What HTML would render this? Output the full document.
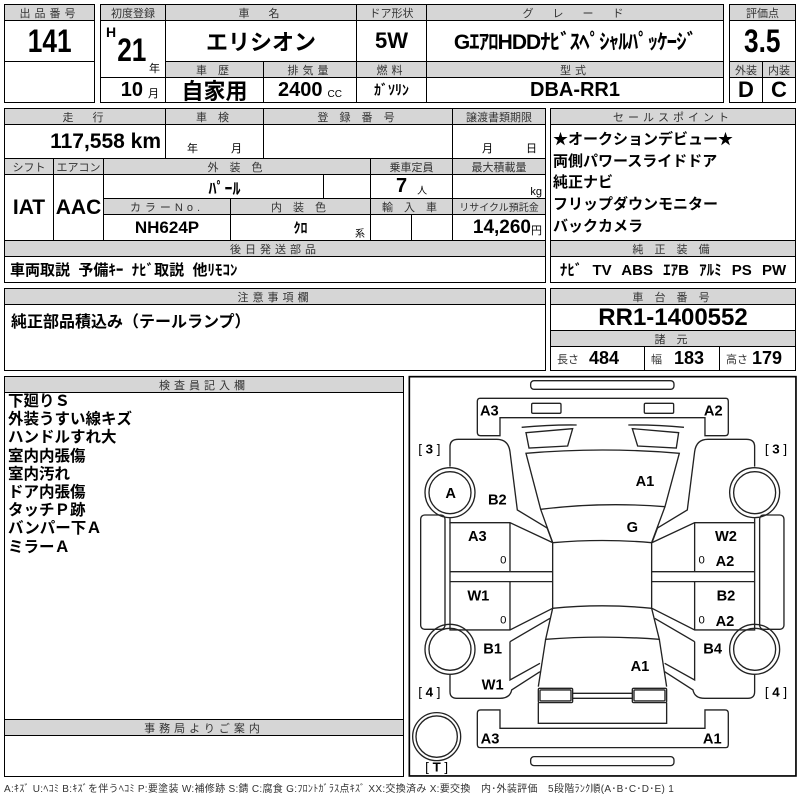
<!DOCTYPE html>
<html><head><meta charset="utf-8">
<style>
body{margin:0;width:800px;height:800px;background:#fff;position:relative;overflow:hidden;font-family:"Liberation Sans","Noto Sans CJK JP",sans-serif;color:#000}
.c{position:absolute;box-sizing:border-box;border:1px solid #000;display:flex;align-items:center;justify-content:center;white-space:nowrap;overflow:hidden}
.h{background:#d6d6d6;font-size:11px;color:#333;letter-spacing:4px;font-family:"Liberation Sans","Noto Sans CJK JP",sans-serif}
.b{font-weight:bold}
.o{position:absolute;box-sizing:border-box;border:1.5px solid #000}
.jp{font-family:"Liberation Sans","Noto Sans CJK JP",sans-serif}
.n{display:inline-block;transform:scaleX(0.82)}
</style></head><body>

<!-- box1 -->
<div class="c h" style="left:4px;top:4px;width:91px;height:17px">出品番号</div>
<div class="c b" style="left:4px;top:20px;width:91px;height:42px;font-size:32px"><span class="n">141</span></div>
<div class="c" style="left:4px;top:61px;width:91px;height:42px"></div>
<div class="o" style="left:4px;top:4px;width:91px;height:99px"></div>

<!-- box2 -->
<div class="c h" style="left:100px;top:4px;width:66px;height:17px;letter-spacing:0">初度登録</div>
<div class="c h" style="left:165px;top:4px;width:192px;height:17px">車　名</div>
<div class="c h" style="left:356px;top:4px;width:71px;height:17px;letter-spacing:0">ドア形状</div>
<div class="c h" style="left:426px;top:4px;width:298px;height:17px">グ　レ　ー　ド</div>
<div class="c" style="left:100px;top:20px;width:66px;height:58px"></div>
<div style="position:absolute;left:106px;top:24px;font-size:14px;font-weight:bold">H</div>
<div style="position:absolute;left:114px;top:32px;font-size:32px;font-weight:bold"><span class="n">21</span></div>
<div class="jp" style="position:absolute;left:149px;top:60px;font-size:11px">年</div>
<div class="c" style="left:100px;top:77px;width:66px;height:26px;justify-content:flex-end;padding-right:6px"><span class="b" style="font-size:20px">10</span><span class="jp" style="font-size:11px;margin-left:5px;margin-top:6px">月</span></div>
<div class="c b jp" style="left:165px;top:20px;width:192px;height:42px;font-size:22px">エリシオン</div>
<div class="c b" style="left:356px;top:20px;width:71px;height:42px;font-size:22px">5W</div>
<div class="c b jp" style="left:426px;top:20px;width:298px;height:42px;font-size:21px;letter-spacing:-1px">GｴｱﾛHDDﾅﾋﾞｽﾍﾟｼｬﾙﾊﾟｯｹｰｼﾞ</div>
<div class="c h" style="left:165px;top:61px;width:99px;height:17px">車 歴</div>
<div class="c h" style="left:263px;top:61px;width:94px;height:17px">排気量</div>
<div class="c h" style="left:356px;top:61px;width:71px;height:17px">燃料</div>
<div class="c h" style="left:426px;top:61px;width:298px;height:17px">型式</div>
<div class="c b jp" style="left:165px;top:77px;width:99px;height:26px;font-size:22px">自家用</div>
<div class="c" style="left:263px;top:77px;width:94px;height:26px"><span class="b" style="font-size:20px">2400</span><span style="font-size:10px;margin-left:5px;margin-top:8px">CC</span></div>
<div class="c b jp" style="left:356px;top:77px;width:71px;height:26px;font-size:14px">ｶﾞｿﾘﾝ</div>
<div class="c b" style="left:426px;top:77px;width:298px;height:26px;font-size:20px">DBA-RR1</div>
<div class="o" style="left:100px;top:4px;width:624px;height:99px"></div>

<!-- box3 -->
<div class="c h" style="left:729px;top:4px;width:67px;height:17px;letter-spacing:0">評価点</div>
<div class="c b" style="left:729px;top:20px;width:67px;height:42px;font-size:32px"><span class="n">3.5</span></div>
<div class="c h" style="left:729px;top:61px;width:34px;height:17px;letter-spacing:0">外装</div>
<div class="c h" style="left:762px;top:61px;width:34px;height:17px;letter-spacing:0">内装</div>
<div class="c b" style="left:729px;top:77px;width:34px;height:26px;font-size:22px">D</div>
<div class="c b" style="left:762px;top:77px;width:34px;height:26px;font-size:22px">C</div>
<div class="o" style="left:729px;top:4px;width:67px;height:99px"></div>

<!-- section 2 -->
<div class="c h" style="left:4px;top:108px;width:162px;height:17px">走　行</div>
<div class="c h" style="left:165px;top:108px;width:99px;height:17px">車 検</div>
<div class="c h" style="left:263px;top:108px;width:190px;height:17px">登 録 番 号</div>
<div class="c h" style="left:452px;top:108px;width:94px;height:17px;letter-spacing:0">譲渡書類期限</div>
<div class="c b" style="left:4px;top:124px;width:162px;height:35px;font-size:21px;justify-content:flex-end;padding-right:4px">117,558 km</div>
<div class="c jp" style="left:165px;top:124px;width:99px;height:35px;font-size:11px;align-items:flex-end;padding-bottom:2px;word-spacing:30px">年 月</div>
<div class="c" style="left:263px;top:124px;width:190px;height:35px"></div>
<div class="c jp" style="left:452px;top:124px;width:94px;height:35px;font-size:11px;align-items:flex-end;justify-content:flex-end;padding:0 8px 2px 0;word-spacing:30px">月 日</div>
<div class="c h" style="left:4px;top:158px;width:50px;height:17px;letter-spacing:0">シフト</div>
<div class="c h" style="left:53px;top:158px;width:51px;height:17px;letter-spacing:0">エアコン</div>
<div class="c h" style="left:103px;top:158px;width:268px;height:17px">外 装 色</div>
<div class="c h" style="left:370px;top:158px;width:83px;height:17px;letter-spacing:0">乗車定員</div>
<div class="c h" style="left:452px;top:158px;width:94px;height:17px;letter-spacing:0">最大積載量</div>
<div class="c b" style="left:4px;top:174px;width:50px;height:67px;font-size:21px">IAT</div>
<div class="c b" style="left:53px;top:174px;width:51px;height:67px;font-size:21px">AAC</div>
<div class="c b jp" style="left:103px;top:174px;width:221px;height:25px;font-size:16px;padding-left:22px">ﾊﾟｰﾙ</div>
<div class="c" style="left:323px;top:174px;width:48px;height:25px"></div>
<div class="c" style="left:370px;top:174px;width:83px;height:25px"><span class="b" style="font-size:20px">7</span><span class="jp" style="font-size:10px;margin-left:10px;margin-top:6px">人</span></div>
<div class="c" style="left:452px;top:174px;width:94px;height:25px;justify-content:flex-end;padding-right:3px;font-size:11px;align-items:flex-end">kg</div>
<div class="c h" style="left:103px;top:198px;width:128px;height:17px">カラーNo.</div>
<div class="c h" style="left:230px;top:198px;width:141px;height:17px">内 装 色</div>
<div class="c h" style="left:370px;top:198px;width:83px;height:17px">輸 入 車</div>
<div class="c h" style="left:452px;top:198px;width:94px;height:17px;letter-spacing:0;font-size:10px">リサイクル預託金</div>
<div class="c b" style="left:103px;top:214px;width:128px;height:27px;font-size:17px">NH624P</div>
<div class="c b jp" style="left:230px;top:214px;width:141px;height:27px;font-size:14px">ｸﾛ</div>
<div class="jp" style="position:absolute;left:355px;top:225px;font-size:10px">系</div>
<div class="c" style="left:370px;top:214px;width:42px;height:27px"></div>
<div class="c" style="left:411px;top:214px;width:42px;height:27px"></div>
<div class="c" style="left:452px;top:214px;width:94px;height:27px;justify-content:flex-end;padding-right:3px"><span class="b" style="font-size:19px">14,260</span><span class="jp" style="font-size:11px;margin-top:4px">円</span></div>
<div class="c h" style="left:4px;top:240px;width:542px;height:17px">後日発送部品</div>
<div class="c b jp" style="left:4px;top:256px;width:542px;height:27px;font-size:15px;justify-content:flex-start;padding-left:5px">車両取説&nbsp; 予備ｷｰ&nbsp; ﾅﾋﾞ取説&nbsp; 他ﾘﾓｺﾝ</div>
<div class="o" style="left:4px;top:108px;width:542px;height:175px"></div>

<!-- sale points -->
<div class="c h" style="left:550px;top:108px;width:246px;height:17px">セールスポイント</div>
<div class="c" style="left:550px;top:124px;width:246px;height:117px"></div>
<div class="b jp" style="position:absolute;left:553px;top:129px;font-size:15px;line-height:21.7px">★オークションデビュー★<br>両側パワースライドドア<br>純正ナビ<br>フリップダウンモニター<br>バックカメラ</div>
<div class="c h" style="left:550px;top:240px;width:246px;height:17px">純 正 装 備</div>
<div class="c b jp" style="left:550px;top:256px;width:246px;height:27px;font-size:15px;word-spacing:6px">ﾅﾋﾞ TV ABS ｴｱB ｱﾙﾐ PS PW</div>
<div class="o" style="left:550px;top:108px;width:246px;height:175px"></div>

<!-- notes -->
<div class="c h" style="left:4px;top:288px;width:542px;height:17px">注意事項欄</div>
<div class="c b jp" style="left:4px;top:304px;width:542px;height:67px;font-size:16px;justify-content:flex-start;align-items:flex-start;padding:3px 0 0 6px">純正部品積込み（テールランプ）</div>
<div class="o" style="left:4px;top:288px;width:542px;height:83px"></div>

<!-- chassis -->
<div class="c h" style="left:550px;top:288px;width:246px;height:17px">車 台 番 号</div>
<div class="c b" style="left:550px;top:304px;width:246px;height:27px;font-size:24px">RR1-1400552</div>
<div class="c h" style="left:550px;top:330px;width:246px;height:17px">諸 元</div>
<div class="c" style="left:550px;top:346px;width:95px;height:25px;justify-content:flex-start;padding-left:6px"><span class="jp" style="font-size:11px;color:#333">長さ</span><span class="b" style="font-size:18px;margin-left:10px">484</span></div>
<div class="c" style="left:644px;top:346px;width:76px;height:25px;justify-content:flex-start;padding-left:6px"><span class="jp" style="font-size:11px;color:#333">幅</span><span class="b" style="font-size:18px;margin-left:12px">183</span></div>
<div class="c" style="left:719px;top:346px;width:77px;height:25px;justify-content:flex-start;padding-left:6px"><span class="jp" style="font-size:11px;color:#333">高さ</span><span class="b" style="font-size:18px;margin-left:4px">179</span></div>
<div class="o" style="left:550px;top:288px;width:246px;height:83px"></div>

<!-- inspector -->
<div class="c h" style="left:4px;top:376px;width:400px;height:17px">検査員記入欄</div>
<div class="c" style="left:4px;top:392px;width:400px;height:328px"></div>
<div class="b jp" style="position:absolute;left:8px;top:393px;font-size:15.5px;line-height:18.2px">下廻りＳ<br>外装うすい線キズ<br>ハンドルすれ大<br>室内内張傷<br>室内汚れ<br>ドア内張傷<br>タッチＰ跡<br>バンパー下Ａ<br>ミラーＡ</div>
<div class="c h" style="left:4px;top:719px;width:400px;height:17px">事務局よりご案内</div>
<div class="c" style="left:4px;top:735px;width:400px;height:42px"></div>
<div class="o" style="left:4px;top:376px;width:400px;height:401px"></div>

<!-- diagram -->
<svg style="position:absolute;left:0;top:0" width="800" height="800" viewBox="0 0 800 800">
<g transform="translate(400,370) scale(0.3333)" fill="none" stroke="#222" stroke-width="4">
<rect x="28" y="20" width="1160" height="1198" stroke-width="5" stroke="#000"/>
<rect x="392" y="32" width="430" height="26" rx="10"/>
<rect x="392" y="1160" width="430" height="27" rx="10"/>
<path d="M240 85 H978 Q985 85 985 95 V187 Q985 197 975 197 H915 V143 H300 V197 H242 Q232 197 232 187 V95 Q232 85 240 85 Z"/>
<path d="M240 1133 H978 Q985 1133 985 1123 V1030 Q985 1020 975 1020 H915 V1075 H300 V1020 H242 Q232 1020 232 1030 V1123 Q232 1133 240 1133 Z"/>
<rect x="395" y="100" width="88" height="30" rx="4"/>
<rect x="733" y="100" width="88" height="30" rx="4"/>
<path d="M365 172 Q450 164 530 165"/>
<path d="M378 188 L518 176 L503 228 L387 234 Z"/>
<path d="M685 165 Q770 164 852 172"/>
<path d="M697 176 L836 188 L829 234 L713 228 Z"/>
<path d="M378 250 Q607 230 838 250 L795 410 Q607 395 422 418 Z"/>
<path d="M422 418 L458 518 Q607 505 755 518 L795 410"/>
<path d="M458 518 V715 Q607 700 755 715 V518"/>
<path d="M458 715 L437 808 Q607 795 778 808 L755 715"/>
<path d="M437 808 L415 950 M778 808 L800 950"/>
<rect x="415" y="955" width="103" height="43" rx="4"/>
<rect x="420" y="960" width="93" height="33" rx="3"/>
<rect x="697" y="955" width="103" height="43" rx="4"/>
<rect x="702" y="960" width="93" height="33" rx="3"/>
<path d="M518 970 H697 M518 985 H697"/>
<path d="M415 998 V1060 H800 V998"/>
<g id="side">
<path d="M150 290 V230 Q150 208 175 208 H290 Q325 208 330 245 L352 420 L443 475"/>
<path d="M458 518 L440 470"/>
<circle cx="150" cy="368" r="75"/><circle cx="150" cy="368" r="63"/>
<rect x="62" y="435" width="73" height="343" rx="12"/>
<path d="M150 445 V458 H330 L458 518"/>
<path d="M150 458 V780 H330 L458 715"/>
<path d="M330 458 V605 M330 635 V780 M150 605 H458 M150 635 H458"/>
<circle cx="150" cy="838" r="75"/><circle cx="150" cy="838" r="63"/>
<path d="M330 815 L450 745 M330 815 V930 L420 880"/>
<path d="M150 915 V965 Q150 985 170 985 H300 Q330 985 335 960 L420 905"/>
</g>
<use href="#side" transform="translate(1214,0) scale(-1,1)"/>
<circle cx="110" cy="1100" r="72"/><circle cx="110" cy="1100" r="62"/>
</g>
<g transform="translate(400,370) scale(0.3333)" font-family="Liberation Sans, sans-serif" font-weight="bold" font-size="44" fill="#000" text-anchor="middle">
<text x="268" y="136">A3</text><text x="940" y="136">A2</text>
<text x="152" y="384">A</text><text x="292" y="404">B2</text>
<text x="735" y="348">A1</text><text x="697" y="486">G</text>
<text x="232" y="513">A3</text><text x="978" y="513">W2</text>
<text x="975" y="588">A2</text>
<text x="235" y="691">W1</text><text x="978" y="691">B2</text>
<text x="975" y="768">A2</text>
<text x="278" y="851">B1</text><text x="938" y="851">B4</text>
<text x="720" y="903">A1</text><text x="278" y="958">W1</text>
<text x="270" y="1121">A3</text><text x="937" y="1121">A1</text>
<g font-weight="normal" font-size="34">
<text x="310" y="580">0</text><text x="905" y="580">0</text>
<text x="310" y="760">0</text><text x="905" y="760">0</text>
</g>
<g font-size="40" font-weight="normal" xml:space="preserve">
<text x="88" y="250">[ <tspan font-weight="bold">3</tspan> ]</text>
<text x="1128" y="250">[ <tspan font-weight="bold">3</tspan> ]</text>
<text x="88" y="980">[ <tspan font-weight="bold">4</tspan> ]</text>
<text x="1128" y="980">[ <tspan font-weight="bold">4</tspan> ]</text>
<text x="110" y="1205">[ <tspan font-weight="bold">T</tspan> ]</text>
</g>
</g>
</svg>

<div class="jp" style="position:absolute;left:4px;top:780px;font-size:10px;color:#333;white-space:nowrap;letter-spacing:0.3px">A:ｷｽﾞ U:ﾍｺﾐ B:ｷｽﾞを伴うﾍｺﾐ P:要塗装 W:補修跡 S:錆 C:腐食 G:ﾌﾛﾝﾄｶﾞﾗｽ点ｷｽﾞ XX:交換済み X:要交換　内･外装評価　5段階ﾗﾝｸ順(A･B･C･D･E) 1</div>
</body></html>
